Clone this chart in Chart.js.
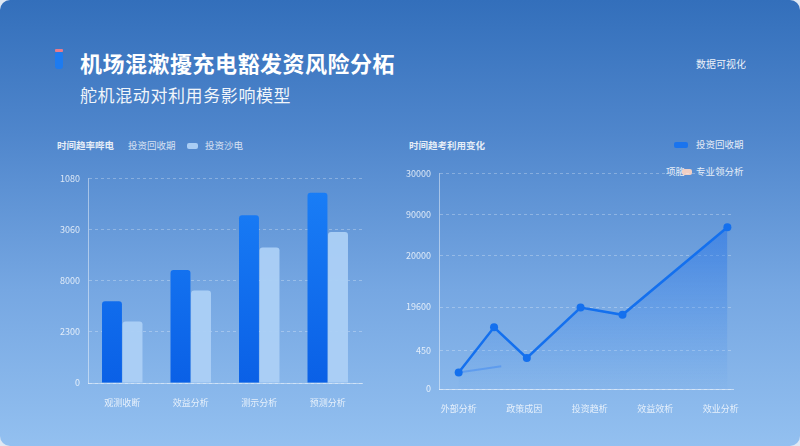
<!DOCTYPE html>
<html>
<head>
<meta charset="utf-8">
<script src="https://cdn.jsdelivr.net/npm/chart.js@4.4.0/dist/chart.umd.min.js"></script>
<style>
  html, body { margin: 0; padding: 0; background: #dfe8f4; }
  body { width: 800px; height: 446px; overflow: hidden; font-family: "Noto Sans CJK SC", "Noto Sans", sans-serif; }
  .card {
    position: absolute; left: 0; top: 0; width: 800px; height: 446px;
    border-radius: 10px; overflow: hidden;
    background: linear-gradient(180deg, #336fbb 0%, #4f86cc 30%, #76a7e2 65%, #93c0f0 100%);
  }
  .txt { position: absolute; color: #fff; white-space: nowrap; }
  .title { left: 80px; top: 46px; font-size: 22px; font-weight: 700; letter-spacing: 0.5px; }
  .sub { left: 80px; top: 82px; font-size: 17px; font-weight: 400; opacity: 0.92; letter-spacing: 0.6px; }
  .badge { position: absolute; left: 55px; top: 52px; width: 8px; height: 17px; border-radius: 3px; background: #1d7bf0; }
  .badge::before { content: ""; position: absolute; left: 0; top: -3px; width: 8px; height: 3px; background: #e87a8a; border-radius: 1px; }
  .tag { left: 696px; top: 56px; font-size: 10px; opacity: 0.9; }
  .hdr { font-size: 9.5px; opacity: 0.85; }
  .sw { position: absolute; height: 6px; border-radius: 2px; }
  canvas { position: absolute; }
</style>
</head>
<body>
<div class="card">
  <div class="badge"></div>
  <div class="txt title">机场混漱擾充电豁发资风险分柘</div>
  <div class="txt sub">舵机混动对利用务影响模型</div>
  <div class="txt tag">数据可视化</div>

  <div class="txt hdr" style="left:57px;top:138px;font-weight:600;">时间趋率哔电</div>
  <div class="txt hdr" style="left:128px;top:138px;opacity:0.75;">投资回收期</div>
  <div class="sw" style="left:187px;top:143px;width:11px;background:#a9cdf4;"></div>
  <div class="txt hdr" style="left:205px;top:138px;opacity:0.75;">投资沙电</div>

  <div class="txt hdr" style="left:409px;top:138px;font-weight:600;">时间趋考利用变化</div>
  <div class="sw" style="left:674px;top:142px;width:14px;background:#1a74ee;"></div>
  <div class="txt hdr" style="left:696px;top:137px;">投资回收期</div>
  <div class="txt hdr" style="left:666px;top:164px;">项胳</div>
  <div class="sw" style="left:682px;top:169px;width:10px;background:#f1cfc3;"></div>
  <div class="txt hdr" style="left:696px;top:164px;">专业领分析</div>

  <canvas id="barChart" style="left:40px;top:165px;width:325px;height:245px;" width="325" height="245"></canvas>
  <canvas id="lineChart" style="left:390px;top:160px;width:355px;height:255px;" width="355" height="255"></canvas>
</div>

<script>
// left chart data
const barCategories = ["观测收断", "效益分析", "测示分析", "预测分析"];
const paybackValues = [1.60, 2.21, 3.28, 3.72];
const investValues = [1.20, 1.81, 2.65, 2.95];
const barTickLabels = ["0", "2300", "8000", "3060", "1080"];

// right chart data
const lineCategories = ["外部分析", "政策成因", "投资趋析", "效益效析", "效业分析"];
const lineX = [0, 0.54, 1.04, 1.86, 2.5, 4.1];
const lineY = [7.7, 28.6, 14.4, 37.8, 34.4, 75.0];
const faintX = [0, 0.65];
const faintY = [7.7, 10.5];
const lineTickValues = [0, 18, 38, 62, 81, 100];
const lineTickLabels = ["0", "450", "19600", "20000", "90000", "30000"];

const tickColor = "rgba(255,255,255,0.78)";
const gridColor = "rgba(255,255,255,0.28)";
const tickFont = { family: "'Noto Sans CJK SC', sans-serif", size: 9 };

// Dark bar gradient, computed per chart area
function darkBarFill(context) {
  const { chart } = context;
  const area = chart.chartArea;
  if (!area) return "#0f6cf0";
  const g = chart.ctx.createLinearGradient(0, area.top, 0, area.bottom);
  g.addColorStop(0, "#1a7ff7");
  g.addColorStop(1, "#0a60e6");
  return g;
}

function areaFill(context) {
  const { chart } = context;
  const area = chart.chartArea;
  if (!area) return "rgba(30,110,235,0.3)";
  const g = chart.ctx.createLinearGradient(0, area.top, 0, area.bottom);
  g.addColorStop(0, "rgba(28,108,235,0.65)");
  g.addColorStop(0.6, "rgba(40,120,235,0.25)");
  g.addColorStop(1, "rgba(60,140,240,0.02)");
  return g;
}

new Chart(document.getElementById("barChart"), {
  type: "bar",
  data: {
    labels: barCategories,
    datasets: [
      {
        label: "投资回收期",
        data: paybackValues,
        backgroundColor: darkBarFill,
        borderRadius: { topLeft: 3, topRight: 3 },
        borderSkipped: "bottom",
        categoryPercentage: 0.6,
        barPercentage: 0.97,
      },
      {
        label: "投资沙电",
        data: investValues,
        backgroundColor: "rgba(172,208,246,0.95)",
        borderRadius: { topLeft: 3, topRight: 3 },
        borderSkipped: "bottom",
        categoryPercentage: 0.6,
        barPercentage: 0.97,
      },
    ],
  },
  options: {
    responsive: false,
    animation: false,
    layout: { padding: { top: 10, right: 3, left: 0, bottom: 0 } },
    plugins: { legend: { display: false }, tooltip: { enabled: false } },
    scales: {
      x: {
        grid: { display: false },
        border: { color: "rgba(255,255,255,0.45)" },
        ticks: { color: tickColor, font: tickFont, padding: 6 },
        afterFit: (scale) => { scale.height = 27; },
      },
      y: {
        min: 0,
        max: 4,
        grid: { color: gridColor, drawTicks: false },
        border: { color: "rgba(255,255,255,0.45)", dash: [3, 3] },
        ticks: {
          stepSize: 1,
          color: tickColor,
          font: tickFont,
          padding: 8,
          callback: (v) => barTickLabels[v],
        },
        afterFit: (scale) => { scale.width = 48; },
      },
    },
  },
});

new Chart(document.getElementById("lineChart"), {
  type: "line",
  data: {
    datasets: [
      {
        label: "投资回收期",
        data: lineX.map((x, i) => ({ x: x, y: lineY[i] })),
        borderColor: "#1470ee",
        borderWidth: 2.5,
        backgroundColor: areaFill,
        fill: "origin",
        pointRadius: 4,
        pointBackgroundColor: "#1470ee",
        pointBorderWidth: 0,
        tension: 0,
      },
      {
        label: "专业领分析",
        data: faintX.map((x, i) => ({ x: x, y: faintY[i] })),
        borderColor: "rgba(70,140,240,0.55)",
        borderWidth: 2,
        pointRadius: 0,
        fill: false,
      },
    ],
  },
  options: {
    responsive: false,
    animation: false,
    layout: { padding: { top: 11, right: 4, left: 0, bottom: 0 } },
    plugins: { legend: { display: false }, tooltip: { enabled: false } },
    scales: {
      x: {
        type: "linear",
        min: -0.3,
        max: 4.2,
        grid: { display: false },
        border: { color: "rgba(255,255,255,0.5)" },
        afterBuildTicks: (scale) => {
          scale.ticks = lineCategories.map((_, i) => ({ value: i }));
        },
        ticks: {
          color: tickColor,
          font: tickFont,
          padding: 6,
          callback: (v) => lineCategories[v],
        },
        afterFit: (scale) => { scale.height = 26; },
      },
      y: {
        min: 0,
        max: 100,
        grid: { color: gridColor, drawTicks: false },
        border: { color: "rgba(255,255,255,0.45)", dash: [3, 3] },
        afterBuildTicks: (scale) => {
          scale.ticks = lineTickValues.map((v) => ({ value: v }));
        },
        ticks: {
          color: tickColor,
          font: tickFont,
          padding: 8,
          callback: (v) => lineTickLabels[lineTickValues.indexOf(v)],
        },
        afterFit: (scale) => { scale.width = 49; },
      },
    },
  },
});
</script>
</body>
</html>
